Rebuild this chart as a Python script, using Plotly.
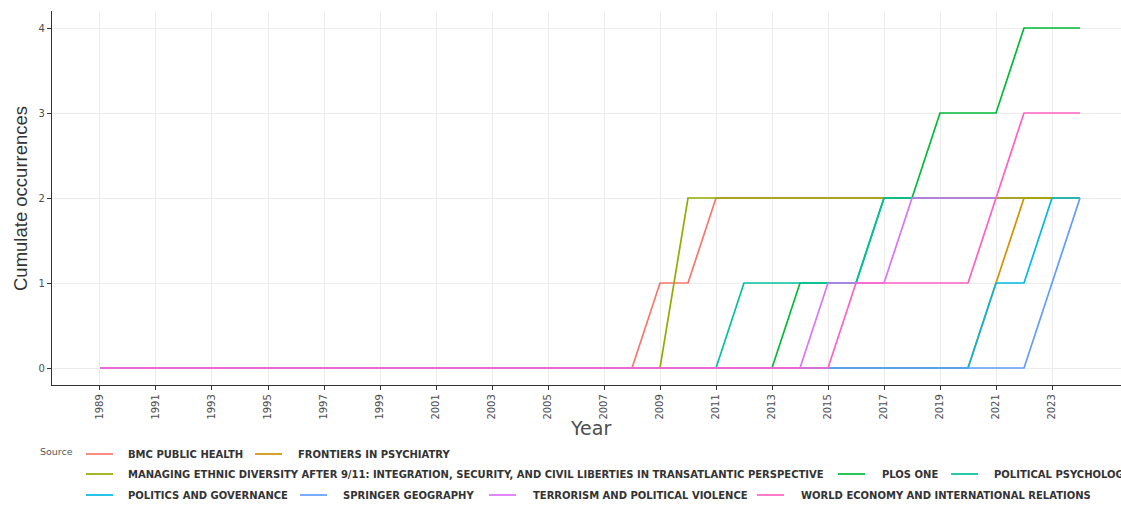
import plotly.graph_objects as go

# ---- data -------------------------------------------------------------
years = [1989, 1990, 1991, 1992, 1993, 1994, 1995, 1996, 1997, 1998,
         1999, 2000, 2001, 2002, 2003, 2004, 2005, 2006, 2007, 2008,
         2009, 2010, 2011, 2012, 2013, 2014, 2015, 2016, 2017, 2018,
         2019, 2020, 2021, 2022, 2023, 2024]

x_tick_years = [1989, 1991, 1993, 1995, 1997, 1999, 2001, 2003, 2005,
                2007, 2009, 2011, 2013, 2015, 2017, 2019, 2021, 2023]
y_ticks = [0, 1, 2, 3, 4]

sources = [
    "BMC PUBLIC HEALTH",
    "FRONTIERS IN PSYCHIATRY",
    "MANAGING ETHNIC DIVERSITY AFTER 9/11: INTEGRATION, SECURITY, AND CIVIL LIBERTIES IN TRANSATLANTIC PERSPECTIVE",
    "PLOS ONE",
    "POLITICAL PSYCHOLOGY",
    "POLITICS AND GOVERNANCE",
    "SPRINGER GEOGRAPHY",
    "TERRORISM AND POLITICAL VIOLENCE",
    "WORLD ECONOMY AND INTERNATIONAL RELATIONS",
]

# cumulative occurrences per year, 1989 .. 2024
bmc_public_health = [0, 0, 0, 0, 0, 0, 0, 0, 0, 0, 0, 0, 0, 0, 0, 0, 0, 0, 0, 0,
                     1, 1, 2, 2, 2, 2, 2, 2, 2, 2, 2, 2, 2, 2, 2, 2]
frontiers_in_psychiatry = [0, 0, 0, 0, 0, 0, 0, 0, 0, 0, 0, 0, 0, 0, 0, 0, 0, 0, 0, 0,
                           0, 0, 0, 0, 0, 0, 0, 0, 0, 0, 0, 0, 1, 2, 2, 2]
managing_ethnic_diversity = [0, 0, 0, 0, 0, 0, 0, 0, 0, 0, 0, 0, 0, 0, 0, 0, 0, 0, 0, 0,
                             0, 2, 2, 2, 2, 2, 2, 2, 2, 2, 2, 2, 2, 2, 2, 2]
plos_one = [0, 0, 0, 0, 0, 0, 0, 0, 0, 0, 0, 0, 0, 0, 0, 0, 0, 0, 0, 0,
            0, 0, 0, 0, 0, 1, 1, 1, 2, 2, 3, 3, 3, 4, 4, 4]
political_psychology = [0, 0, 0, 0, 0, 0, 0, 0, 0, 0, 0, 0, 0, 0, 0, 0, 0, 0, 0, 0,
                        0, 0, 0, 1, 1, 1, 1, 1, 2, 2, 2, 2, 2, None, None, None]
politics_and_governance = [0, 0, 0, 0, 0, 0, 0, 0, 0, 0, 0, 0, 0, 0, 0, 0, 0, 0, 0, 0,
                           0, 0, 0, 0, 0, 0, 0, 0, 0, 0, 0, 0, 1, 1, 2, 2]
springer_geography = [0, 0, 0, 0, 0, 0, 0, 0, 0, 0, 0, 0, 0, 0, 0, 0, 0, 0, 0, 0,
                      0, 0, 0, 0, 0, 0, 0, 0, 0, 0, 0, 0, 0, 0, 1, 2]
terrorism_and_political_violence = [0, 0, 0, 0, 0, 0, 0, 0, 0, 0, 0, 0, 0, 0, 0, 0, 0, 0, 0, 0,
                                    0, 0, 0, 0, 0, 0, 1, 1, 1, 2, 2, 2, 2, None, None, None]
world_economy = [0, 0, 0, 0, 0, 0, 0, 0, 0, 0, 0, 0, 0, 0, 0, 0, 0, 0, 0, 0,
                 0, 0, 0, 0, 0, 0, 0, 1, 1, 1, 1, 1, 2, 3, 3, 3]

series = [bmc_public_health, frontiers_in_psychiatry, managing_ethnic_diversity,
          plos_one, political_psychology, politics_and_governance,
          springer_geography, terrorism_and_political_violence, world_economy]

# ---- style ------------------------------------------------------------
colors = ["#F8766D", "#D39200", "#93AA00", "#00BA38", "#00C19F",
          "#00B9E3", "#619CFF", "#DB72FB", "#FF61C3"]

W, H = 1121, 507
M_L, M_R, M_T, M_B = 52, 0, 11, 122
PW = W - M_L - M_R
PH = H - M_T - M_B

fig = go.Figure()
for name, vals, col in zip(sources, series, colors):
    fig.add_trace(go.Scatter(
        x=years, y=vals, name=name, mode="lines",
        line=dict(color=col, width=1.7),
        connectgaps=False, showlegend=False,
    ))

tick_font = dict(family="DejaVu Sans", size=10, color="#4d4d4d")
fig.update_xaxes(
    range=[1987.286, 2025.464], tickmode="array", tickvals=x_tick_years,
    ticktext=[str(v) for v in x_tick_years], tickangle=-90,
    showgrid=True, gridcolor="#ececec", gridwidth=1, zeroline=False,
    showline=True, linecolor="#333333", linewidth=1.3,
    ticks="outside", ticklen=4, tickcolor="#333333", tickfont=tick_font,
)
fig.update_yaxes(
    range=[-0.2, 4.2], tickmode="array", tickvals=y_ticks,
    showgrid=True, gridcolor="#ececec", gridwidth=1, zeroline=False,
    showline=True, linecolor="#333333", linewidth=1.3,
    ticks="outside", ticklen=4, tickcolor="#333333", tickfont=tick_font,
)


def px_x(px):
    return (px - M_L) / PW


def px_y(py):
    return (H - M_B - py) / PH


annotations = [
    dict(text="Cumulate occurrences", xref="paper", yref="paper",
         x=px_x(20), y=px_y(199), textangle=-90, showarrow=False,
         xanchor="center", yanchor="middle",
         font=dict(family="Liberation Sans Narrow, Arial Narrow, Liberation Sans, sans-serif",
                   size=18.5, color="#333333")),
    dict(text="Year", xref="paper", yref="paper",
         x=px_x(590), y=px_y(428), showarrow=False,
         xanchor="center", yanchor="middle",
         font=dict(family="DejaVu Sans", size=19, color="#4d4d4d")),
    dict(text="Source", xref="paper", yref="paper",
         x=px_x(38), y=px_y(451), showarrow=False,
         xanchor="left", yanchor="middle",
         font=dict(family="DejaVu Sans", size=9.5, color="#555555")),
]

# legend key placement: (row centre y, key line start x, label start x)
legend_slots = [
    (454, 86, 126), (454, 255, 296),
    (474, 86, 126), (474, 838, 880), (474, 951, 992),
    (495, 86, 126), (495, 300, 341), (495, 489, 531), (495, 757, 799),
]
KEY_LEN = 27

shapes = []
for name, col, (ry, lx, tx) in zip(sources, colors, legend_slots):
    shapes.append(dict(type="line", xref="paper", yref="paper",
                       x0=px_x(lx), x1=px_x(lx + KEY_LEN),
                       y0=px_y(ry), y1=px_y(ry),
                       line=dict(color=col, width=1.7)))
    annotations.append(dict(text=name, xref="paper", yref="paper",
                            x=px_x(tx), y=px_y(ry), showarrow=False,
                            xanchor="left", yanchor="middle",
                            font=dict(family="DejaVu Sans", size=10,
                                      color="#333333", weight="bold")))

fig.update_layout(
    width=W, height=H,
    margin=dict(l=M_L, r=M_R, t=M_T, b=M_B, autoexpand=False),
    plot_bgcolor="white", paper_bgcolor="white",
    showlegend=False,
    annotations=annotations, shapes=shapes,
)

fig.write_html("out.html", config={"displayModeBar": False})
